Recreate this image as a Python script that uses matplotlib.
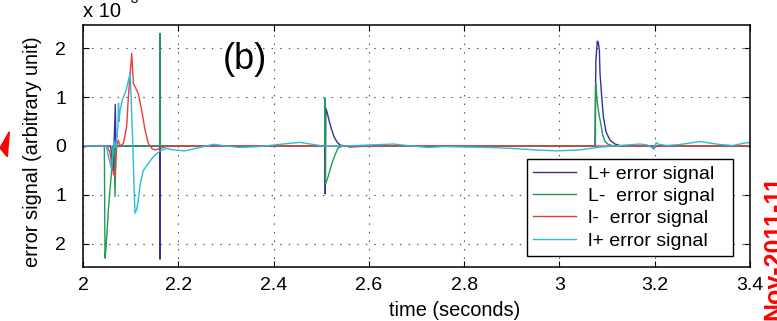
import matplotlib
matplotlib.use("Agg")
import matplotlib.pyplot as plt
from matplotlib.patches import Polygon

plt.rcParams['font.family'] = ['Liberation Sans', 'DejaVu Sans']

# error signals, in units of 1e-3
t_Lp = [2.0, 2.058, 2.0636, 2.0678, 2.0692, 2.071, 2.1612, 2.1616, 2.1622,
        2.5075, 2.5085, 2.5098, 2.5128, 2.517, 2.522, 2.5269, 2.5325, 2.5395,
        2.56, 2.6, 3.0745, 3.0765, 3.0795, 3.0815, 3.0838, 3.0852, 3.0888,
        3.0922, 3.0978, 3.1062, 3.1167, 3.13, 3.195, 3.198, 3.201, 3.4]
v_Lp = [0.0, 0.0, -0.5, 0.85, -0.1, 0.0, 0.0, -2.31, 0.0,
        0.0, -0.98, 0.77, 0.67, 0.5, 0.33, 0.19, 0.09, 0.02,
        -0.02, 0.0, 0.0, 1.75, 2.14, 2.12, 1.96, 1.48, 1.0,
        0.6, 0.29, 0.12, 0.04, 0.0, 0.0, -0.06, 0.0, 0.0]

t_Lm = [2.0, 2.0448, 2.0462, 2.0485, 2.054, 2.0602, 2.0615, 2.0655, 2.0672,
        2.0693, 2.1615, 2.1617, 2.1625, 2.5078, 2.508, 2.509, 2.5143, 2.5227,
        2.529, 2.5353, 2.545, 3.0755, 3.076, 3.0772, 3.0783, 3.0817, 3.0838,
        3.0867, 3.0909, 3.0957, 3.1027, 3.115, 3.4]
v_Lm = [0.0, 0.0, -2.29, -2.05, -1.2, -0.49, 0.0, 0.0, -1.03,
        0.0, 0.0, 2.3, 0.0, 0.0, 0.98, -0.78, -0.63, -0.35,
        -0.18, -0.04, 0.0, 0.0, 1.28, 1.2, 1.0, 0.73, 0.6,
        0.46, 0.22, 0.09, 0.03, 0.0, 0.0]

t_lm = [2.0, 2.01, 2.04, 2.05, 2.056, 2.0636, 2.0672, 2.0707, 2.0741, 2.0777,
        2.0847, 2.0917, 2.0952, 2.1022, 2.1057, 2.1127, 2.1161, 2.1232, 2.1302,
        2.1372, 2.1442, 2.1511, 2.1616, 2.1757, 2.2, 3.4]
v_lm = [-0.03, 0.0, 0.01, 0.0, -0.12, -0.55, -0.63, 0.0, 0.12, 0.0,
        0.05, 0.4, 1.0, 1.89, 1.28, 1.14, 1.07, 0.73, 0.33,
        0.05, -0.05, -0.08, -0.05, -0.01, 0.0, 0.0]

t_lp = [2.0, 2.049, 2.053, 2.060, 2.0655, 2.0695, 2.0735, 2.0745, 2.0755, 2.0777,
        2.083, 2.091, 2.0987, 2.1005, 2.104, 2.107, 2.1092, 2.1125, 2.1161, 2.1196,
        2.1266, 2.1337, 2.1476, 2.1616, 2.1757, 2.19, 2.214, 2.245, 2.274, 2.30,
        2.33, 2.372, 2.41, 2.455, 2.49, 2.504, 2.55, 2.60, 2.651, 2.69,
        2.725, 2.76, 2.798, 2.85, 2.903, 2.95, 2.995, 3.043, 3.079, 3.113,
        3.14, 3.169, 3.185, 3.194, 3.199, 3.203, 3.207, 3.225, 3.253, 3.295,
        3.337, 3.364, 3.394, 3.4]
v_lp = [0.0, 0.0, -0.2, -0.48, 0.1, -0.05, 0.45, 0.87, 0.5, 0.73,
        0.95, 1.15, 1.48, 1.1, 0.2, -0.8, -1.37, -1.3, -1.1, -0.8,
        -0.5, -0.4, -0.22, -0.1, -0.05, -0.08, -0.1, -0.03, 0.035, 0.0,
        -0.03, -0.01, 0.03, 0.075, 0.02, 0.0, 0.0, 0.02, 0.04, 0.0,
        -0.03, -0.01, -0.02, -0.03, -0.05, -0.08, -0.1, -0.08, -0.03, 0.0,
        0.02, 0.04, 0.02, -0.03, -0.06, 0.07, 0.04, 0.01, 0.03, 0.09,
        0.03, 0.01, 0.07, 0.06]

labels = ['L+ error signal', 'L-  error signal', 'l-  error signal', 'l+ error signal']
colors = ['#32329e', '#1f9a55', '#ee3b3b', '#2bbbdb']

xticks = [2, 2.2, 2.4, 2.6, 2.8, 3, 3.2, 3.4]
xticklabels = ['2', '2.2', '2.4', '2.6', '2.8', '3', '3.2', '3.4']
yticks = [-2, -1, 0, 1, 2]
yticklabels = ['2', '1', '0', '1', '2']

fig = plt.figure(figsize=(7.77, 3.21), dpi=100)
ax = fig.add_axes([83 / 777, 1 - 267 / 321, 667 / 777, 242 / 321])

series = [(t_Lp, v_Lp), (t_Lm, v_Lm), (t_lm, v_lm), (t_lp, v_lp)]
for (t, v), lab, c in zip(series, labels, colors):
    ax.plot(t, v, color=c, lw=1.0, label=lab)

ax.set_xlim(2, 3.4)
ax.set_ylim(-2.47, 2.47)
ax.set_xticks(xticks)
ax.set_xticklabels(xticklabels)
ax.set_yticks(yticks)
ax.set_yticklabels(yticklabels)
ax.tick_params(direction='in', length=4, width=0.8, top=True, right=True,
               labelsize=14, pad=7)
ax.tick_params(axis='y', pad=12)
ax.grid(True, color='#444444', lw=0.8, linestyle=(0, (1.2, 6.5)))
for s in ax.spines.values():
    s.set_linewidth(1.1)

ax.text(2.34, 1.76, '(b)', fontsize=26, ha='center', va='center')

leg = ax.legend(loc='lower left', bbox_to_anchor=(0.6657, 0.0455, 0.3088, 0.4),
                mode='expand', borderaxespad=0, fontsize=14, frameon=True,
                fancybox=False, edgecolor='black', framealpha=1,
                handlelength=2.2, handletextpad=0.6, labelspacing=0.24,
                borderpad=0.33)
leg.get_frame().set_linewidth(1.0)

fig.text(33 / 777, 1 - 152 / 321, 'error signal (arbitrary unit)', rotation=90,
         ha='center', va='center', fontsize=14.4)
fig.text(455 / 777, 1 - 310 / 321, 'time (seconds)', ha='center', va='center',
         fontsize=14.4)
fig.text(83 / 777, 1 - 17 / 321, 'x 10', ha='left', va='baseline', fontsize=14.5)
fig.text(126 / 777, 1 - 3 / 321, '-3', ha='left', va='baseline', fontsize=10)

# red marks cut by the figure edge
fig.patches.append(Polygon([[9.3 / 777, 1 - 131.7 / 321], [0, 1 - 148 / 321],
                            [7.3 / 777, 1 - 156.7 / 321]], closed=True,
                           transform=fig.transFigure, color='red'))
fig.text(774 / 777, 1 - 175 / 321, 'Nov-2011-11', rotation=90, color='red',
         fontsize=18, fontweight='bold', ha='center', va='top')

fig.savefig('out.png', dpi=100)
